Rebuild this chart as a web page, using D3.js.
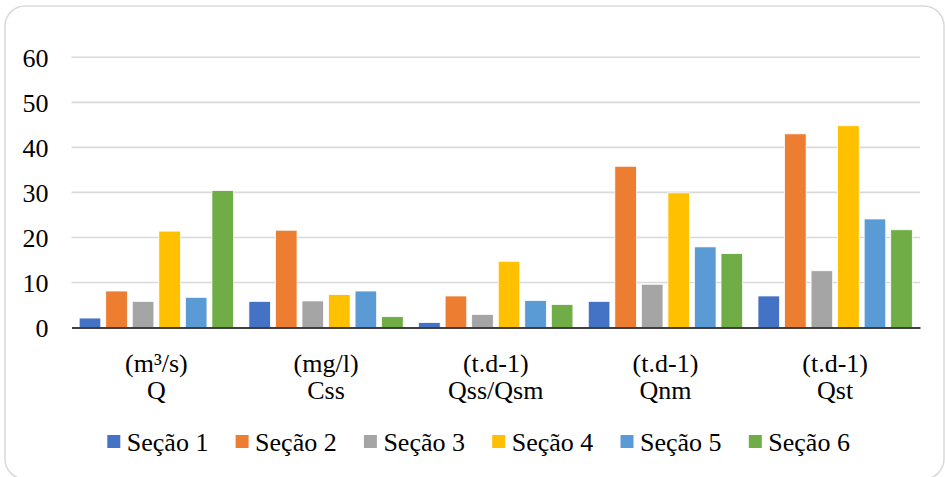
<!DOCTYPE html>
<html>
<head>
<meta charset="utf-8">
<script src="https://cdn.jsdelivr.net/npm/d3@7"></script>
<style>
  html, body { margin: 0; padding: 0; background: #fff; }
  svg { display: block; }
  text { font-family: "Liberation Serif", "Times New Roman", serif; fill: #000; }
</style>
</head>
<body>
<svg id="chart" width="945" height="477"></svg>
<script>
// ---- data ----
const categories = ["Q", "Css", "Qss/Qsm", "Qnm", "Qst"];
const units = ["(m³/s)", "(mg/l)", "(t.d-1)", "(t.d-1)", "(t.d-1)"];
const seriesNames = ["Seção 1", "Seção 2", "Seção 3", "Seção 4", "Seção 5", "Seção 6"];
const secao1 = [2.1, 5.8, 1.1, 5.8, 7.0];
const secao2 = [8.1, 21.6, 7.0, 35.8, 43.0];
const secao3 = [5.8, 5.9, 2.9, 9.6, 12.6];
const secao4 = [21.4, 7.3, 14.7, 29.9, 44.8];
const secao5 = [6.7, 8.1, 6.0, 17.9, 24.1];
const secao6 = [30.4, 2.4, 5.1, 16.4, 21.7];
const yTicks = [0, 10, 20, 30, 40, 50, 60];
const colors = ["#4472C4", "#ED7D31", "#A5A5A5", "#FFC000", "#5B9BD5", "#70AD47"];

const seriesValues = [secao1, secao2, secao3, secao4, secao5, secao6];
const serif = '"Liberation Serif", "Times New Roman", serif';

const svg = d3.select("#chart");

// frame
svg.append("rect")
  .attr("x", 5).attr("y", 6)
  .attr("width", 939).attr("height", 473)
  .attr("rx", 20).attr("ry", 20)
  .attr("fill", "#fff")
  .attr("stroke", "#d9d9d9")
  .attr("stroke-width", 1.5);

const plotLeft = 71.5, plotRight = 920, plotTop = 57.3, plotBottom = 327.5;

const y = d3.scaleLinear().domain([0, 60]).range([plotBottom, plotTop]);
const x0 = d3.scaleBand().domain(categories).range([plotLeft, plotRight]).paddingInner(0).paddingOuter(0);
const x1 = d3.scaleBand().domain(d3.range(seriesNames.length))
  .range([0, x0.bandwidth()]).paddingInner(0.187).paddingOuter(0.29);

// gridlines
svg.append("g").selectAll("line")
  .data(yTicks.filter(d => d > 0))
  .join("line")
  .attr("x1", plotLeft).attr("x2", plotRight)
  .attr("y1", d => y(d)).attr("y2", d => y(d))
  .attr("stroke", "#d9d9d9").attr("stroke-width", 1.6);

// y axis labels
const yAxis = d3.axisLeft(y).tickValues(yTicks).tickSize(0).tickPadding(0);
const gy = svg.append("g").attr("transform", "translate(48.5,0)").call(yAxis);
gy.attr("font-family", serif);
gy.select(".domain").remove();
gy.selectAll("text")
  .style("font-family", serif)
  .style("font-size", "26px")
  .attr("fill", "#000")
  .attr("dy", "0.34em");

// bars
const groups = svg.append("g").selectAll("g")
  .data(categories)
  .join("g")
  .attr("transform", d => `translate(${x0(d)},0)`);

groups.selectAll("rect")
  .data((d, ci) => seriesValues.map((vals, si) => ({ si, v: vals[ci] })))
  .join("rect")
  .attr("x", d => x1(d.si))
  .attr("width", x1.bandwidth())
  .attr("y", d => y(d.v))
  .attr("height", d => y(0) - y(d.v))
  .attr("fill", d => colors[d.si])
  .attr("stroke", "#fff")
  .attr("stroke-width", 0.75);

// baseline axis
const xAxis = d3.axisBottom(x0).tickSize(0).tickFormat("");
const gx = svg.append("g").attr("transform", `translate(0,${plotBottom})`).call(xAxis);
gx.select(".domain").attr("stroke", "#000").attr("stroke-width", 1.6);

// category labels (two lines)
const catLabels = svg.append("g").selectAll("text")
  .data(categories)
  .join("text")
  .attr("text-anchor", "middle")
  .style("font-family", serif)
  .style("font-size", "26px")
  .attr("x", d => x0(d) + x0.bandwidth() / 2);
catLabels.append("tspan")
  .attr("x", d => x0(d) + x0.bandwidth() / 2)
  .attr("y", 372)
  .text((d, i) => units[i]);
catLabels.append("tspan")
  .attr("x", d => x0(d) + x0.bandwidth() / 2)
  .attr("y", 398.5)
  .text(d => d);

// legend
const legendX0 = 107.3, legendStep = 128.3;
const legend = svg.append("g").selectAll("g")
  .data(seriesNames)
  .join("g")
  .attr("transform", (d, i) => `translate(${legendX0 + i * legendStep},0)`);
legend.append("rect")
  .attr("x", 0).attr("y", 435)
  .attr("width", 13).attr("height", 13)
  .attr("fill", (d, i) => colors[i]);
legend.append("text")
  .attr("x", 19.5).attr("y", 450.5)
  .style("font-family", serif)
  .style("font-size", "26px")
  .text(d => d);
</script>
</body>
</html>
